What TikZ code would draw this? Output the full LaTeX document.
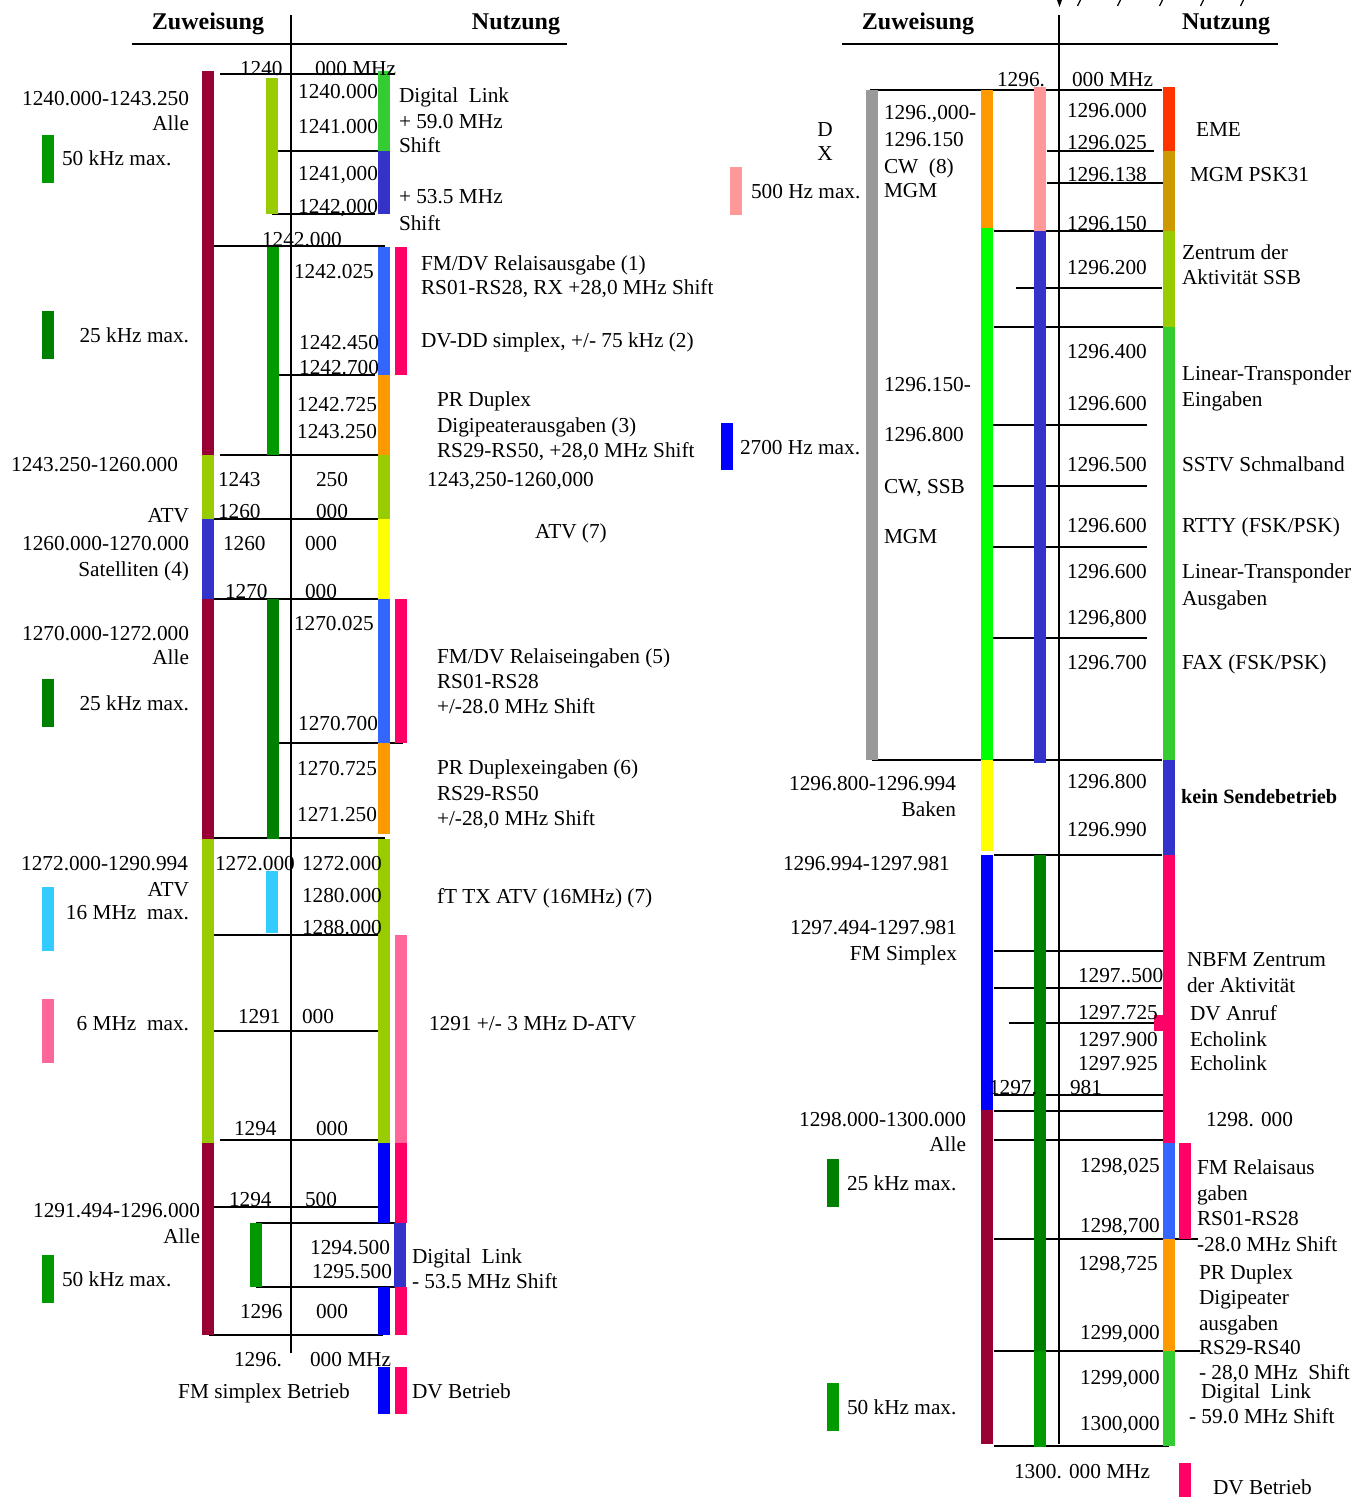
\documentclass[tikz,border=0pt]{standalone}
\usepackage{fontspec}
\setmainfont{Liberation Serif}
\definecolor{maroon}{HTML}{990033}
\definecolor{ygreen}{HTML}{99CC00}
\definecolor{violet}{HTML}{3333CC}
\definecolor{greenA}{HTML}{009900}
\definecolor{dgreen}{HTML}{008000}
\definecolor{cyanA}{HTML}{33CCFF}
\definecolor{lgreen}{HTML}{33CC33}
\definecolor{blueB}{HTML}{3366FF}
\definecolor{pinkA}{HTML}{FF0066}
\definecolor{orangeA}{HTML}{FF9900}
\definecolor{yellowA}{HTML}{FFFF00}
\definecolor{lpink}{HTML}{FF6699}
\definecolor{pblue}{HTML}{0000FF}
\definecolor{grayA}{HTML}{999999}
\definecolor{salmon}{HTML}{FF9999}
\definecolor{lime}{HTML}{00FF00}
\definecolor{redA}{HTML}{FF3300}
\definecolor{gold}{HTML}{CC9900}
\newcounter{tn}
\tikzset{
  txt/.style={inner sep=0pt, outer sep=0pt, font=\fontsize{21.3bp}{24bp}\selectfont},
  hdr/.style={inner sep=0pt, outer sep=0pt, font=\fontsize{24bp}{26bp}\selectfont\bfseries},
  hl/.style={line width=2bp, black},
  axisln/.style={line width=2bp, black},
}
\newcommand\TL[3]{\stepcounter{tn}\node[txt,anchor=base west] (t\arabic{tn}) at (#1,#2+7) {#3};}
\newcommand\TR[3]{\stepcounter{tn}\node[txt,anchor=base east] (t\arabic{tn}) at (#1,#2+7) {#3};}
\newcommand\TC[3]{\stepcounter{tn}\node[txt,anchor=base] (t\arabic{tn}) at (#1,#2+7) {#3};}
\newcommand\VB[4]{\fill[#4] (#1-6,#2) rectangle (#1+6,#3);}
\newcommand\HL[3]{\draw[hl] (#1,#3) -- (#2,#3);}
\begin{document}
\begin{tikzpicture}[x=1bp,y=-1bp]
\useasboundingbox (0,0) rectangle (1353,1497);
% ================= LEFT HALF =================
\node[hdr,anchor=base] (hz1) at (208,30) {Zuweisung};
\node[hdr,anchor=base] (hn1) at (516,30) {Nutzung};
\HL{132}{567}{44}
\HL{220}{395}{74}
\HL{278}{378}{151}
\HL{272}{375}{214}
\HL{214}{385}{246}
\HL{279}{375}{375}
\HL{220}{380}{455}
\HL{209}{385}{519}
\HL{209}{385}{599}
\HL{279}{403}{743}
\HL{214}{385}{838}
\HL{209}{385}{935}
\HL{214}{378}{1031}
\HL{220}{378}{1140}
\HL{209}{378}{1207}
\HL{256}{402}{1223}
\HL{256}{402}{1287}
\HL{209}{383}{1335}
\draw[axisln] (291,15) -- (291,1353);
% bars column 1
\VB{208}{71}{455}{maroon}
\VB{208}{455}{519}{ygreen}
\VB{208}{519}{599}{violet}
\VB{208}{599}{839}{maroon}
\VB{208}{839}{1143}{ygreen}
\VB{208}{1143}{1335}{maroon}
% column 2
\VB{272}{78}{214}{ygreen}
\VB{273}{247}{455}{greenA}
\VB{273}{599}{839}{dgreen}
\VB{272}{871}{933}{cyanA}
\VB{256}{1223}{1287}{greenA}
% column 3
\VB{384}{71}{151}{lgreen}
\VB{384}{151}{214}{violet}
\VB{384}{247}{375}{blueB}
\VB{384}{375}{455}{orangeA}
\VB{384}{455}{519}{ygreen}
\VB{384}{519}{599}{yellowA}
\VB{384}{599}{743}{blueB}
\VB{384}{743}{834}{orangeA}
\VB{384}{839}{1143}{ygreen}
\VB{384}{1143}{1223}{pblue}
\VB{384}{1287}{1335}{pblue}
\VB{384}{1367}{1414}{pblue}
% column 4
\VB{401}{247}{375}{pinkA}
\VB{401}{599}{743}{pinkA}
\VB{401}{935}{1143}{lpink}
\VB{401}{1143}{1223}{pinkA}
\VB{400}{1223}{1287}{violet}
\VB{401}{1287}{1335}{pinkA}
\VB{401}{1367}{1414}{pinkA}
% legend
\VB{48}{135}{183}{greenA}
\VB{48}{311}{359}{dgreen}
\VB{48}{679}{727}{dgreen}
\VB{48}{887}{951}{cyanA}
\VB{48}{999}{1063}{lpink}
\VB{48}{1255}{1303}{greenA}
% texts left
\TR{189}{99}{1240.000-1243.250}
\TR{189}{124}{Alle}
\TL{62}{159}{50 kHz max.}
\TR{189}{335}{25 kHz max.}
\TR{178}{464}{1243.250-1260.000}
\TR{189}{515}{ATV}
\TR{189}{543}{1260.000-1270.000}
\TR{189}{569}{Satelliten (4)}
\TR{189}{633}{1270.000-1272.000}
\TR{189}{657}{Alle}
\TR{189}{703}{25 kHz max.}
\TR{188}{863}{1272.000-1290.994}
\TR{189}{889}{ATV}
\TR{189}{912}{16 MHz~~max.}
\TR{189}{1023}{6 MHz~~max.}
\TR{200}{1210}{1291.494-1296.000}
\TR{200}{1236}{Alle}
\TL{62}{1279}{50 kHz max.}
\TL{240}{69}{1240}
\TL{315}{69}{000 MHz}
\TR{378}{92}{1240.000}
\TR{378}{127}{1241.000}
\TR{378}{174}{1241,000}
\TR{378}{207}{1242,000}
\TL{262}{239}{1242.000}
\TL{294}{271}{1242.025}
\TR{379}{342}{1242.450}
\TR{379}{367}{1242.700}
\TR{377}{404}{1242.725}
\TR{377}{431}{1243.250}
\TL{218}{479}{1243}
\TL{316}{479}{250}
\TL{218}{511}{1260}
\TL{316}{511}{000}
\TL{223}{543}{1260}
\TL{305}{543}{000}
\TL{225}{591}{1270}
\TL{305}{591}{000}
\TL{294}{623}{1270.025}
\TR{378}{723}{1270.700}
\TR{377}{768}{1270.725}
\TR{377}{814}{1271.250}
\TL{215}{863}{1272.000}
\TL{302}{863}{1272.000}
\TL{302}{895}{1280.000}
\TL{302}{927}{1288.000}
\TL{238}{1016}{1291}
\TL{302}{1016}{000}
\TL{234}{1128}{1294}
\TL{316}{1128}{000}
\TL{229}{1199}{1294}
\TL{305}{1199}{500}
\TR{390}{1247}{1294.500}
\TR{392}{1271}{1295.500}
\TL{240}{1311}{1296}
\TL{316}{1311}{000}
\TR{282}{1359}{1296.}
\TL{310}{1359}{000 MHz}
\TC{264}{1391}{FM simplex Betrieb}
\TL{412}{1391}{DV Betrieb}
\TL{399}{96}{Digital~~Link}
\TL{399}{122}{+ 59.0 MHz}
\TL{399}{146}{Shift}
\TL{399}{197}{+ 53.5 MHz}
\TL{399}{223}{Shift}
\TL{421}{263}{FM/DV Relaisausgabe (1)}
\TL{421}{287}{RS01-RS28, RX +28,0 MHz Shift}
\TL{421}{340}{DV-DD simplex, +/- 75 kHz (2)}
\TL{437}{399}{PR Duplex}
\TL{437}{425}{Digipeaterausgaben (3)}
\TL{437}{450}{RS29-RS50, +28,0 MHz Shift}
\TL{427}{479}{1243,250-1260,000}
\TC{571}{531}{ATV (7)}
\TL{437}{656}{FM/DV Relaiseingaben (5)}
\TL{437}{681}{RS01-RS28}
\TL{437}{706}{+/-28.0 MHz Shift}
\TL{437}{767}{PR Duplexeingaben (6)}
\TL{437}{793}{RS29-RS50}
\TL{437}{818}{+/-28,0 MHz Shift}
\TL{437}{896}{fT TX ATV (16MHz) (7)}
\TL{429}{1023}{1291 +/- 3 MHz D-ATV}
\TL{412}{1256}{Digital~~Link}
\TL{412}{1281}{- 53.5 MHz Shift}
% ================= RIGHT HALF =================
\node[hdr,anchor=base] (hz2) at (918,30) {Zuweisung};
\node[hdr,anchor=base] (hn2) at (1226,30) {Nutzung};
\HL{842}{1278}{44}
\fill[black] (1057,0) -- (1062,0) -- (1059.5,7) -- cycle;
\foreach \sx in {1079,1119,1161,1202,1242}
  \draw[line width=1.2bp] (\sx-1.5,6) -- (\sx+1.5,0);
\HL{870}{1162}{90}
\HL{1047}{1154}{151}
\HL{1047}{1163}{183}
\HL{994}{1163}{231}
\HL{1016}{1162}{288}
\HL{994}{1164}{327}
\HL{988}{1147}{425}
\HL{988}{1147}{486}
\HL{988}{1147}{547}
\HL{988}{1147}{638}
\HL{872}{1162}{760}
\HL{994}{1162}{855}
\HL{994}{1163}{951}
\HL{994}{1162}{988}
\HL{1009}{1155}{1023}
\HL{994}{1170}{1095}
\HL{994}{1163}{1111}
\HL{994}{1163}{1140}
\HL{994}{1198}{1239}
\HL{994}{1200}{1351}
\HL{994}{1169}{1446}
\draw[axisln] (1059,15) -- (1059,1444);
% bars
\VB{871.5}{90}{760}{grayA}
\VB{987}{90}{228}{orangeA}
\VB{987}{228}{760}{lime}
\VB{987}{760}{851}{yellowA}
\VB{987}{855}{1110}{pblue}
\VB{987}{1110}{1444}{maroon}
\VB{1040}{87}{231}{salmon}
\VB{1040}{231}{763}{violet}
\VB{1040}{855}{1351}{dgreen}
\VB{1040}{1351}{1447}{greenA}
\VB{1169}{87}{151}{redA}
\VB{1169}{151}{231}{gold}
\VB{1169}{231}{327}{ygreen}
\VB{1169}{327}{760}{lgreen}
\VB{1169}{760}{855}{violet}
\VB{1169}{855}{1143}{pinkA}
\VB{1169}{1143}{1239}{blueB}
\VB{1169}{1239}{1351}{orangeA}
\VB{1169}{1351}{1446}{lgreen}
\fill[pinkA] (1154,1015) rectangle (1164,1031);
\VB{1185}{1143}{1239}{pinkA}
\VB{1185}{1463}{1497}{pinkA}
\VB{736}{167}{215}{salmon}
\VB{727}{423}{470}{pblue}
\VB{832.5}{1159}{1207}{dgreen}
\VB{832.5}{1383}{1431}{greenA}
% texts right
\TR{1045}{80}{1296.}
\TL{1072}{80}{000 MHz}
\TL{884}{113}{1296.,000-}
\TL{884}{140}{1296.150}
\TL{884}{167}{CW~~(8)}
\TL{884}{191}{MGM}
\TC{825}{130}{D}
\TC{825}{154}{X}
\TL{751}{192}{500 Hz max.}
\TL{1067}{111}{1296.000}
\TL{1067}{143}{1296.025}
\TL{1067}{175}{1296.138}
\TL{1067}{223}{1296.150}
\TL{1067}{267}{1296.200}
\TL{1067}{351}{1296.400}
\TL{1067}{403}{1296.600}
\TL{1067}{464}{1296.500}
\TL{1067}{525}{1296.600}
\TL{1067}{571}{1296.600}
\TL{1067}{617}{1296,800}
\TL{1067}{662}{1296.700}
\TL{1067}{781}{1296.800}
\TL{1067}{829}{1296.990}
\TL{1196}{130}{EME}
\TL{1190}{175}{MGM PSK31}
\TL{1182}{252}{Zentrum der}
\TL{1182}{277}{Aktivität SSB}
\TL{1182}{373}{Linear-Transponder}
\TL{1182}{399}{Eingaben}
\TL{884}{384}{1296.150-}
\TL{884}{434}{1296.800}
\TL{884}{486}{CW, SSB}
\TL{884}{536}{MGM}
\TL{740}{447}{2700 Hz max.}
\TL{1182}{464}{SSTV Schmalband}
\TL{1182}{525}{RTTY (FSK/PSK)}
\TL{1182}{571}{Linear-Transponder}
\TL{1182}{598}{Ausgaben}
\TL{1182}{662}{FAX (FSK/PSK)}
\TR{956}{783}{1296.800-1296.994}
\TR{956}{809}{Baken}
\TL{1181}{796}{\fontsize{20.3bp}{24bp}\selectfont\bfseries kein Sendebetrieb}
\TL{783}{863}{1296.994-1297.981}
\TR{957}{927}{1297.494-1297.981}
\TR{957}{953}{FM Simplex}
\TL{1187}{959}{NBFM Zentrum}
\TL{1187}{985}{der Aktivität}
\TL{1078}{975}{1297..500}
\TL{1078}{1012}{1297.725}
\TL{1078}{1039}{1297.900}
\TL{1078}{1063}{1297.925}
\TL{1190}{1013}{DV Anruf}
\TL{1190}{1039}{Echolink}
\TL{1190}{1063}{Echolink}
\TL{989}{1087}{1297.}
\TL{1070}{1087}{981}
\TR{966}{1119}{1298.000-1300.000}
\TR{966}{1144}{Alle}
\TL{1206}{1119}{1298. 000}
\TL{847}{1183}{25 kHz max.}
\TL{1080}{1165}{1298,025}
\TL{1080}{1225}{1298,700}
\TL{1197}{1167}{FM Relaisaus}
\TL{1197}{1193}{gaben}
\TL{1197}{1218}{RS01-RS28}
\TL{1197}{1244}{-28.0 MHz Shift}
\TL{1078}{1263}{1298,725}
\TL{1080}{1332}{1299,000}
\TL{1080}{1377}{1299,000}
\TL{1080}{1423}{1300,000}
\TL{1199}{1272}{PR Duplex}
\TL{1199}{1297}{Digipeater}
\TL{1199}{1323}{ausgaben}
\TL{1199}{1347}{RS29-RS40}
\TL{1199}{1372}{- 28,0 MHz~~Shift}
\TL{1201}{1391}{Digital~~Link}
\TL{1189}{1416}{- 59.0 MHz Shift}
\TL{847}{1407}{50 kHz max.}
\TL{1014}{1471}{1300. 000 MHz}
\TL{1213}{1487}{DV Betrieb}
\end{tikzpicture}
\end{document}
